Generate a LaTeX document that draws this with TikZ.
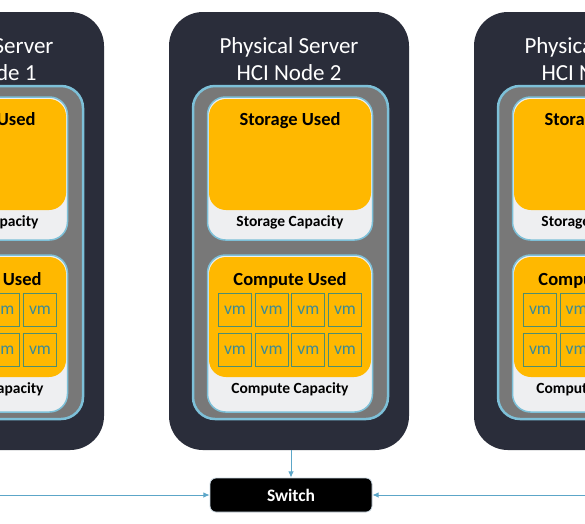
\documentclass[tikz,border=0pt]{standalone}
\usepackage{fontspec}
\setmainfont{Carlito}
\usetikzlibrary{arrows.meta}
\definecolor{hcidark}{RGB}{42,45,58}
\definecolor{hcigray}{RGB}{120,120,120}
\definecolor{hciblue}{RGB}{125,192,216}
\definecolor{hcilight}{RGB}{238,239,241}
\definecolor{hciorange}{RGB}{255,184,0}
\definecolor{hcivm}{RGB}{78,142,112}
\definecolor{hcivmtext}{RGB}{58,138,150}
\definecolor{hciwire}{RGB}{92,166,200}
\definecolor{hciedge}{RGB}{200,214,224}

\begin{document}
\begin{tikzpicture}[x=1pt, y=-1pt,
    server/.style={fill=hcidark, rounded corners=34pt, minimum width=240pt, minimum height=438pt, inner sep=0pt},
    pool/.style={fill=hcigray, draw=hciblue, line width=2.5pt, rounded corners=22pt, minimum width=195pt, minimum height=333pt, inner sep=0pt},
    capbox/.style={fill=hcilight, draw=hciblue, line width=1.5pt, rounded corners=18pt, minimum width=165pt, inner sep=0pt},
    usedbox/.style={fill=hciorange, rounded corners=17pt, minimum width=162pt, inner sep=0pt},
    vmbox/.style={draw=hcivm, line width=1.2pt, minimum size=33pt, inner sep=0pt, text=hcivmtext, font=\fontsize{17.5}{18}\selectfont},
    usedlbl/.style={font=\bfseries\fontsize{18.5}{20}\selectfont},
    caplbl/.style={font=\bfseries\fontsize{15.5}{17}\selectfont},
    wire/.style={-{Latex[length=2.2mm,width=2mm]}, draw=hciwire, line width=1pt}
  ]
  \path[use as bounding box] (0,0) rectangle (585,523);
  \clip (0,0) rectangle (585,523);

  % three HCI nodes, outer ones cut by the frame
  \foreach \i/\cx in {1/-16, 2/289, 3/594} {
    \node[server] (srv\i) at (\cx,231) {};
    \node[text=white, align=center, font=\fontsize{23}{27}\selectfont] (title\i) at (\cx,59) {Physical Server\\HCI Node \i};
    \node[pool] (pool\i) at (\cx+1.5,252.5) {};
    % storage
    \node[capbox, minimum height=143pt] (stcap\i) at (\cx+1,168.5) {};
    \node[usedbox, minimum height=111pt] (stuse\i) at (\cx+1,154.5) {};
    \node[usedlbl] (stlbl\i) at (\cx+1,121) {Storage Used};
    \node[caplbl] (stcl\i) at (\cx+1,222) {Storage Capacity};
    % compute
    \node[capbox, minimum height=157pt] (cpcap\i) at (\cx+1,333.5) {};
    \node[usedbox, minimum height=120pt] (cpuse\i) at (\cx+1,317) {};
    \node[usedlbl] (cplbl\i) at (\cx+1,280) {Compute Used};
    \node[caplbl] (cpcl\i) at (\cx+1,389) {Compute Capacity};
    \foreach \r/\ry in {1/310, 2/350}
      \foreach \c [count=\k] in {-55,-18.33,18.33,55}
        \node[vmbox] (vm\i\r\k) at (\cx+1+\c,\ry) {vm};
  }

  \node[fill=black, draw=hciedge, line width=0.8pt, rounded corners=6pt, minimum width=162pt, minimum height=34pt, text=white, font=\bfseries\fontsize{17.5}{18}\selectfont] (sw) at (291,495) {Switch};

  \coordinate (wl) at (-10,495);
  \coordinate (wr) at (595,495);
  \draw[wire] (sw.north |- srv2.south) -- (sw.north);
  \draw[wire] (wl) -- (sw.west);
  \draw[wire] (wr) -- (sw.east);
\end{tikzpicture}
\end{document}
